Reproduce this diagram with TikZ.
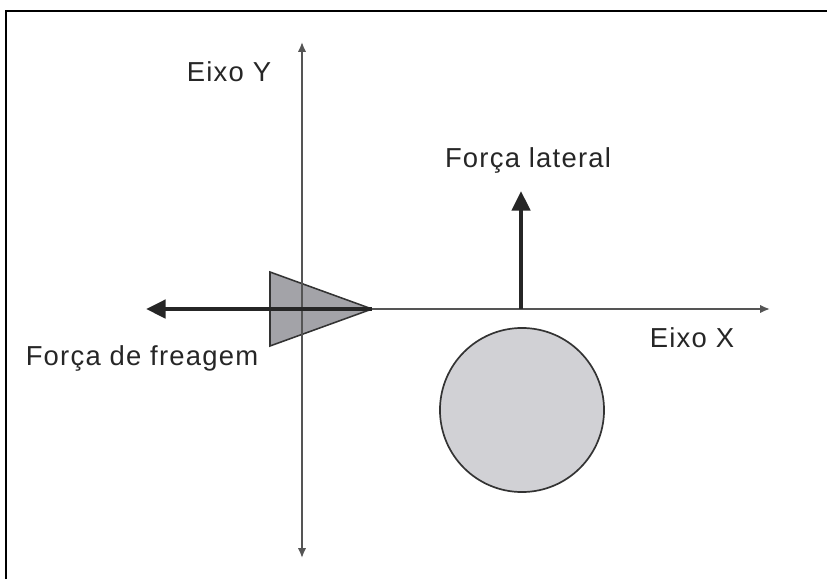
\documentclass[tikz,border=0pt]{standalone}
\usepackage{fontspec}
\setmainfont{Liberation Sans}[LetterSpace=4.5]
\usetikzlibrary{arrows.meta, positioning}
\definecolor{axisGray}{HTML}{555555}
\definecolor{carGray}{HTML}{A3A3A8}
\definecolor{wheelGray}{HTML}{D1D1D5}
\definecolor{edgeDark}{HTML}{333333}

\begin{document}
\begin{tikzpicture}[x=0.025cm, y=-0.025cm,
    eixo/.style={axisGray, line width=1.3pt, -{Latex[length=7pt, width=6pt]}},
    forca/.style={black!85, line width=2.8pt, -{Triangle[length=14pt, width=13pt]}},
    rotulo/.style={font=\fontsize{19.5}{22}\selectfont, text=black!85, inner sep=0pt}]
    \useasboundingbox (0,0) rectangle (827,579);
    % moldura
    \draw[line width=1.3pt] (6,579) -- (6,11) -- (827,11);
    % pontos principais
    \coordinate (origem) at (302,309);
    \coordinate (yTopo) at (302,42);
    \coordinate (yBase) at (302,558);
    \coordinate (ponta) at (372,309);
    \coordinate (xFim) at (770,309);
    \coordinate (freio) at (146,309);
    \coordinate (lateralBase) at (521,309);
    \coordinate (lateralTopo) at (521,191);
    % veiculo e roda
    \draw[edgeDark, fill=carGray, line width=1.1pt] (270,272) -- (270,346) -- (ponta) -- cycle;
    \node[circle, draw=edgeDark, fill=wheelGray, line width=1.2pt, minimum size=4.1cm,
          inner sep=0pt] (roda) at (522,410) {};
    % eixos
    \draw[eixo] (origem) -- (yTopo);
    \draw[eixo] (origem) -- (yBase);
    \draw[eixo] (ponta) -- (xFim);
    % forcas
    \draw[forca] (ponta) -- (freio);
    \draw[forca] (lateralBase) -- (lateralTopo);
    % rotulos
    \node[rotulo] (eixoY) at (229,72) {Eixo Y};
    \node[rotulo] (eixoX) at (692,338) {Eixo X};
    \node[rotulo] (lateral) at (528,160) {Força lateral};
    \node[rotulo] (freagem) at (142,358) {Força de freagem};
\end{tikzpicture}
\end{document}
